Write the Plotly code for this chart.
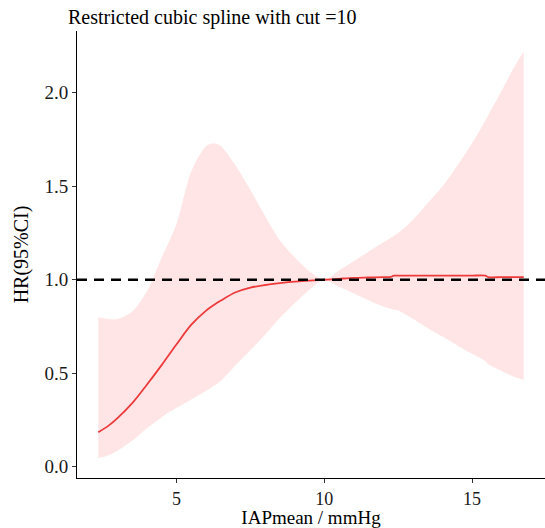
import plotly.graph_objects as go

# IAP mean (mmHg)
iap = [2.35, 2.7, 3.0, 3.5, 4.0, 4.5, 5.0, 5.5, 6.0, 6.25, 6.5, 7.0, 7.5, 8.0, 8.5,
       9.0, 9.5, 10.0, 10.5, 11.0, 11.5, 12.0, 12.25, 12.35, 12.5, 13.0, 13.5, 14.0,
       14.5, 15.0, 15.45, 15.55, 16.0, 16.4, 16.75]
# hazard ratio (centre line)
hr = [0.185, 0.22, 0.26, 0.34, 0.44, 0.545, 0.655, 0.76, 0.835, 0.864, 0.889, 0.933,
      0.958, 0.972, 0.982, 0.99, 0.995, 1.0, 1.005, 1.01, 1.012, 1.014, 1.015, 1.022,
      1.022, 1.022, 1.022, 1.022, 1.022, 1.022, 1.022, 1.014, 1.014, 1.014, 1.014]
# upper 95% CI
hr_upper = [0.80, 0.79, 0.79, 0.83, 0.94, 1.12, 1.30, 1.58, 1.715, 1.73, 1.715, 1.61,
            1.48, 1.34, 1.21, 1.12, 1.045, 1.0, 1.05, 1.10, 1.15, 1.20, 1.225, 1.235,
            1.25, 1.32, 1.41, 1.50, 1.61, 1.73, 1.85, 1.88, 2.01, 2.13, 2.22]
# lower 95% CI
hr_lower = [0.045, 0.061, 0.086, 0.139, 0.206, 0.265, 0.315, 0.36, 0.405, 0.43, 0.46,
            0.543, 0.623, 0.707, 0.797, 0.875, 0.947, 1.0, 0.962, 0.927, 0.891, 0.857,
            0.845, 0.84, 0.836, 0.791, 0.741, 0.696, 0.649, 0.604, 0.565, 0.548, 0.512,
            0.483, 0.463]

ref_hr = 1.0
x_ticks = [5, 10, 15]
y_ticks = [0.0, 0.5, 1.0, 1.5, 2.0]
y_tick_text = ["0.0", "0.5", "1.0", "1.5", "2.0"]

FONT = "Liberation Serif, Times New Roman, serif"

fig = go.Figure()
fig.add_trace(go.Scatter(x=iap, y=hr_lower, mode="lines",
                         line=dict(width=0, shape="spline", smoothing=0.8),
                         hoverinfo="skip", showlegend=False))
fig.add_trace(go.Scatter(x=iap, y=hr_upper, mode="lines",
                         line=dict(width=0, shape="spline", smoothing=0.8),
                         fill="tonexty", fillcolor="rgba(255,0,0,0.1)",
                         hoverinfo="skip", showlegend=False))
fig.add_trace(go.Scatter(x=iap, y=hr, mode="lines",
                         line=dict(color="#EE3A3A", width=1.8, shape="spline",
                                   smoothing=0.9),
                         showlegend=False))
fig.add_hline(y=ref_hr, line=dict(color="black", width=2.5, dash="10px,7px"),
              layer="above")

axis_common = dict(showline=True, linecolor="black", linewidth=1, ticks="outside",
                   ticklen=4, tickcolor="#333333", tickwidth=1, showgrid=False,
                   zeroline=False, automargin=False)

fig.update_layout(
    width=545, height=528,
    margin=dict(l=77, r=0, t=31, b=50),
    paper_bgcolor="white", plot_bgcolor="white",
    font=dict(family=FONT, size=19, color="black"),
    title=dict(text="Restricted cubic spline with cut =10", xref="container",
               yref="container", x=68 / 545, xanchor="left", y=1 - 17 / 528,
               yanchor="middle", font=dict(family=FONT, size=20, color="black")),
    xaxis=dict(range=[1.63, 17.47], tickvals=x_ticks,
               tickfont=dict(family=FONT, size=18, color="#1a1a1a"),
               title=dict(text="IAPmean / mmHg", standoff=5,
                          font=dict(family=FONT, size=19)),
               **axis_common),
    yaxis=dict(range=[-0.06, 2.33], tickvals=y_ticks, ticktext=y_tick_text,
               tickfont=dict(family=FONT, size=19, color="#1a1a1a"),
               title=dict(text="HR(95%CI)", standoff=10,
                          font=dict(family=FONT, size=20)),
               **axis_common),
)

fig.write_html("out.html", config={"displayModeBar": False},
               post_script="document.body.style.margin='0';"
                           "document.body.style.overflow='hidden';")
